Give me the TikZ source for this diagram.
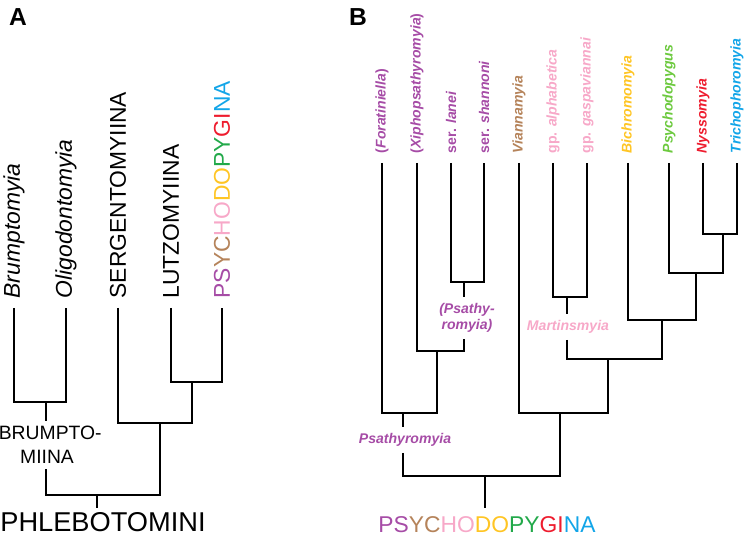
\documentclass[tikz,border=0pt]{standalone}
\usepackage{fontspec}
\setmainfont{Liberation Sans}
\definecolor{psapurple}{HTML}{A64CA6}
\definecolor{vianbrown}{HTML}{B5835A}
\definecolor{martpink}{HTML}{F7A8C8}
\definecolor{bichyellow}{HTML}{FFC524}
\definecolor{psygreen}{HTML}{6CC93E}
\definecolor{pygreen}{HTML}{22A94A}
\definecolor{nyssred}{HTML}{EE1C2E}
\definecolor{tricblue}{HTML}{12A5E8}
\newcommand{\psychodopygina}{{\color{psapurple}PS}{\color{vianbrown}YC}{\color{martpink}HO}{\color{bichyellow}DO}{\color{pygreen}PY}{\color{nyssred}GI}{\color{tricblue}NA}}

\begin{document}
\begin{tikzpicture}[x=0.02cm,y=-0.02cm,line width=1.1pt,
  leafA/.style={rotate=90,anchor=west,inner sep=5pt,font=\fontsize{13}{15}\selectfont},
  leafB/.style={rotate=90,anchor=west,inner sep=5pt,font=\fontsize{8}{9.6}\selectfont\bfseries},
  cladeB/.style={align=center,inner sep=3pt,font=\fontsize{8}{9.1}\selectfont\bfseries\itshape},
  panel/.style={font=\fontsize{14}{16}\selectfont\bfseries}]
\useasboundingbox (0,0) rectangle (753,536);

% panel A
\node[panel] (labA) at (18,17) {A};
\node[leafA] (brum) at (14,308) {\textit{Brumptomyia}};
\node[leafA] (olig) at (66,308) {\textit{Oligodontomyia}};
\node[leafA] (serg) at (118,308) {SERGENTOMYIINA};
\node[leafA] (lutz) at (171,308) {LUTZOMYIINA};
\node[leafA] (psyA) at (222,308) {\psychodopygina};
\node[align=center,inner sep=2.5pt,font=\fontsize{11}{13.6}\selectfont] (brumpt) at (47,445) {BRUMPTO\rlap{-}\\MIINA};
\node[inner sep=2.5pt,font=\fontsize{15.5}{17}\selectfont] (phleb) at (103,522.5) {PHLEBOTOMINI};

\coordinate (bj) at (46,402);
\coordinate (lj) at (192,382);
\coordinate (sj) at (160,423);
\coordinate (rootA) at (97,495);

\draw (brum.west) |- (bj) -| (olig.west);
\draw (lutz.west) |- (lj) -| (psyA.west);
\draw (serg.west) |- (sj) -| (lj);
\draw (bj) -- (bj |- brumpt.north);
\draw (bj |- brumpt.south) |- (rootA) -| (sj);
\draw (rootA) -- (rootA |- phleb.north);

% panel B
\node[panel] (labB) at (358,17) {B};
\node[leafB,psapurple] (fora) at (382,163) {(\textit{Foratiniella})};
\node[leafB,psapurple] (xiph) at (417,163) {(\textit{Xiphopsathyromyia})};
\node[leafB,psapurple] (lane) at (451,163) {ser. \textit{lanei}};
\node[leafB,psapurple] (shan) at (484,163) {ser. \textit{shannoni}};
\node[leafB,vianbrown] (vian) at (519,163) {\textit{Viannamyia}};
\node[leafB,martpink] (alph) at (553,163) {gp. \textit{alphabetica}};
\node[leafB,martpink] (gasp) at (587,163) {gp. \textit{gaspaviannai}};
\node[leafB,bichyellow] (bich) at (628,163) {\textit{Bichromomyia}};
\node[leafB,psygreen] (psyg) at (669,163) {\textit{Psychodopygus}};
\node[leafB,nyssred] (nyss) at (703,163) {\textit{Nyssomyia}};
\node[leafB,tricblue] (tric) at (737,163) {\textit{Trichophoromyia}};

\node[cladeB,psapurple] (psa2) at (467,318) {(Psathy-\\romyia)};
\node[cladeB,psapurple] (psa1) at (405,440) {Psathyromyia};
\node[cladeB,martpink] (mart) at (568,327) {Martinsmyia};
\node[inner sep=4.5pt,font=\fontsize{13}{15}\selectfont] (psyB) at (487,525) {\psychodopygina};

\coordinate (lsj) at (464,282);
\coordinate (xj) at (437,351);
\coordinate (fj) at (403,413);
\coordinate (aj) at (567,297);
\coordinate (nj) at (723,234);
\coordinate (pj) at (696,273);
\coordinate (bcj) at (662,320);
\coordinate (mj) at (608,359);
\coordinate (vj) at (560,413);
\coordinate (rootB) at (485,476);

\draw (lane.west) |- (lsj) -| (shan.west);
\draw (lsj) -- (lsj |- psa2.north);
\draw (xiph.west) |- (xj) -| (lsj |- psa2.south);
\draw (fora.west) |- (fj) -| (xj);
\draw (fj) -- (fj |- psa1.north);
\draw (alph.west) |- (aj) -| (gasp.west);
\draw (aj) -- (aj |- mart.north);
\draw (nyss.west) |- (nj) -| (tric.west);
\draw (psyg.west) |- (pj) -| (nj);
\draw (bich.west) |- (bcj) -| (pj);
\draw (aj |- mart.south) |- (mj) -| (bcj);
\draw (vian.west) |- (vj) -| (mj);
\draw (fj |- psa1.south) |- (rootB) -| (vj);
\draw (rootB) -- (rootB |- psyB.north);
\end{tikzpicture}
\end{document}
